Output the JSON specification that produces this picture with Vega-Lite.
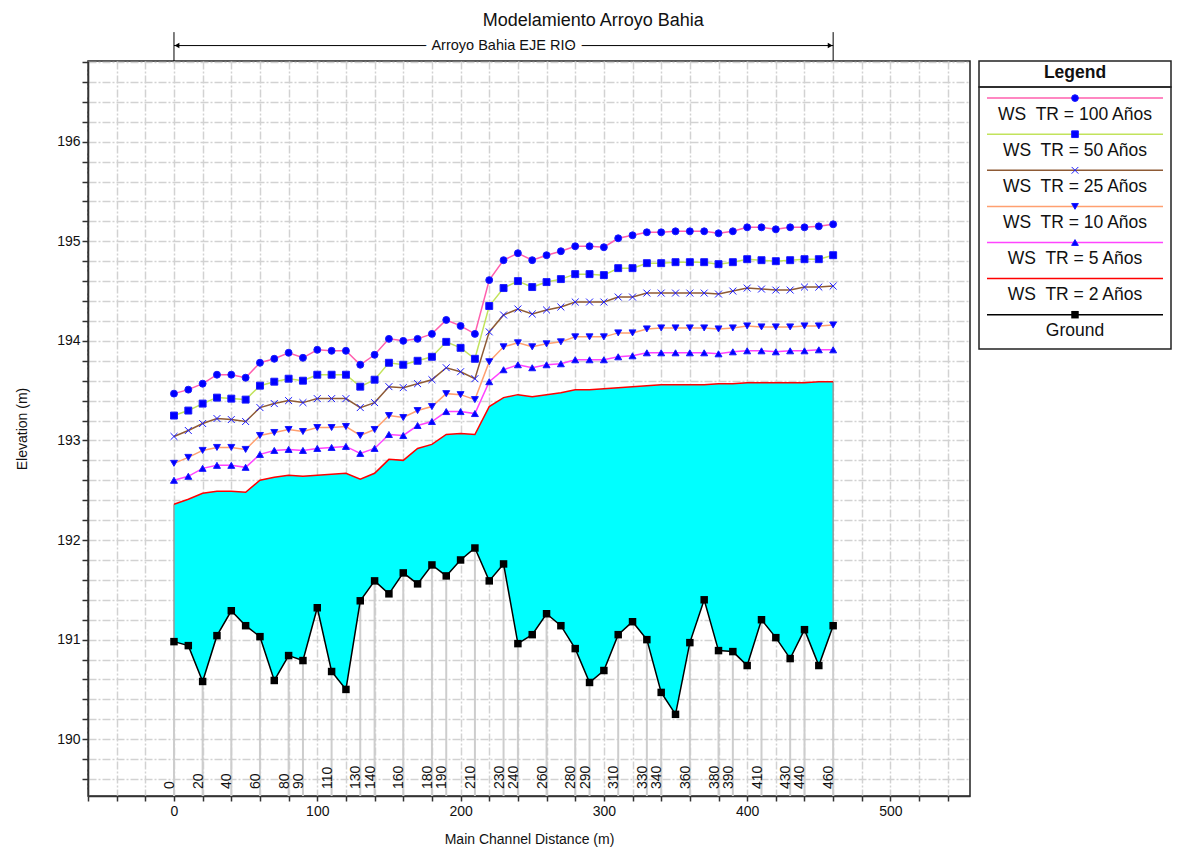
{
  "$schema": "https://vega.github.io/schema/vega-lite/v6.json",
  "background": "white",
  "padding": {"left": 14, "top": 11, "right": 0, "bottom": 0},
  "bounds": "flush",
  "spacing": 9,
  "title": {"text": "Modelamiento Arroyo Bahia", "fontSize": 18, "fontWeight": "normal", "font": "Liberation Sans", "anchor": "middle", "offset": 1, "color": "#111"},
  "config": {
    "font": "Liberation Sans",
    "view": {"stroke": "#222", "strokeWidth": 1.5},
    "axis": {"labelFont": "Liberation Sans", "titleFont": "Liberation Sans", "labelFontSize": 14, "titleFontSize": 14, "titleFontWeight": "normal", "labelColor": "#111", "titleColor": "#111", "domainColor": "#333", "domainWidth": 1.5, "tickColor": "#333", "tickWidth": 1.5, "gridColor": "#d2d2d2", "gridWidth": 1.5, "gridDash": [8, 2, 2, 2], "labelOverlap": false, "labelFlush": false}
  },
  "datasets": {
    "profile": [
      {"station": 0, "ground": 190.98, "ws2": 192.36, "ws5": 192.60, "ws10": 192.77, "ws25": 193.04, "ws50": 193.25, "ws100": 193.47},
      {"station": 10, "ground": 190.94, "ws2": 192.41, "ws5": 192.64, "ws10": 192.83, "ws25": 193.10, "ws50": 193.30, "ws100": 193.51},
      {"station": 20, "ground": 190.58, "ws2": 192.47, "ws5": 192.72, "ws10": 192.90, "ws25": 193.17, "ws50": 193.37, "ws100": 193.57},
      {"station": 30, "ground": 191.04, "ws2": 192.49, "ws5": 192.75, "ws10": 192.93, "ws25": 193.22, "ws50": 193.43, "ws100": 193.66},
      {"station": 40, "ground": 191.29, "ws2": 192.49, "ws5": 192.75, "ws10": 192.93, "ws25": 193.21, "ws50": 193.42, "ws100": 193.66},
      {"station": 50, "ground": 191.14, "ws2": 192.48, "ws5": 192.73, "ws10": 192.91, "ws25": 193.19, "ws50": 193.41, "ws100": 193.63},
      {"station": 60, "ground": 191.03, "ws2": 192.60, "ws5": 192.86, "ws10": 193.05, "ws25": 193.33, "ws50": 193.55, "ws100": 193.78},
      {"station": 70, "ground": 190.59, "ws2": 192.63, "ws5": 192.90, "ws10": 193.08, "ws25": 193.37, "ws50": 193.59, "ws100": 193.82},
      {"station": 80, "ground": 190.84, "ws2": 192.65, "ws5": 192.91, "ws10": 193.11, "ws25": 193.40, "ws50": 193.62, "ws100": 193.88},
      {"station": 90, "ground": 190.79, "ws2": 192.64, "ws5": 192.90, "ws10": 193.09, "ws25": 193.38, "ws50": 193.60, "ws100": 193.83},
      {"station": 100, "ground": 191.32, "ws2": 192.65, "ws5": 192.92, "ws10": 193.13, "ws25": 193.42, "ws50": 193.66, "ws100": 193.91},
      {"station": 110, "ground": 190.68, "ws2": 192.66, "ws5": 192.93, "ws10": 193.13, "ws25": 193.42, "ws50": 193.66, "ws100": 193.90},
      {"station": 120, "ground": 190.50, "ws2": 192.67, "ws5": 192.94, "ws10": 193.14, "ws25": 193.42, "ws50": 193.66, "ws100": 193.90},
      {"station": 130, "ground": 191.39, "ws2": 192.61, "ws5": 192.87, "ws10": 193.05, "ws25": 193.33, "ws50": 193.54, "ws100": 193.76},
      {"station": 140, "ground": 191.59, "ws2": 192.67, "ws5": 192.92, "ws10": 193.11, "ws25": 193.38, "ws50": 193.61, "ws100": 193.86},
      {"station": 150, "ground": 191.46, "ws2": 192.81, "ws5": 193.06, "ws10": 193.25, "ws25": 193.54, "ws50": 193.78, "ws100": 194.02},
      {"station": 160, "ground": 191.67, "ws2": 192.80, "ws5": 193.05, "ws10": 193.23, "ws25": 193.53, "ws50": 193.76, "ws100": 194.00},
      {"station": 170, "ground": 191.56, "ws2": 192.92, "ws5": 193.15, "ws10": 193.30, "ws25": 193.57, "ws50": 193.80, "ws100": 194.02},
      {"station": 180, "ground": 191.75, "ws2": 192.96, "ws5": 193.19, "ws10": 193.34, "ws25": 193.61, "ws50": 193.84, "ws100": 194.07},
      {"station": 190, "ground": 191.64, "ws2": 193.06, "ws5": 193.29, "ws10": 193.47, "ws25": 193.73, "ws50": 193.99, "ws100": 194.21},
      {"station": 200, "ground": 191.80, "ws2": 193.07, "ws5": 193.29, "ws10": 193.46, "ws25": 193.69, "ws50": 193.93, "ws100": 194.15},
      {"station": 210, "ground": 191.92, "ws2": 193.06, "ws5": 193.27, "ws10": 193.41, "ws25": 193.62, "ws50": 193.82, "ws100": 194.07},
      {"station": 220, "ground": 191.59, "ws2": 193.34, "ws5": 193.59, "ws10": 193.79, "ws25": 194.09, "ws50": 194.35, "ws100": 194.61},
      {"station": 230, "ground": 191.76, "ws2": 193.43, "ws5": 193.71, "ws10": 193.94, "ws25": 194.26, "ws50": 194.53, "ws100": 194.81},
      {"station": 240, "ground": 190.96, "ws2": 193.46, "ws5": 193.76, "ws10": 193.98, "ws25": 194.32, "ws50": 194.60, "ws100": 194.88},
      {"station": 250, "ground": 191.05, "ws2": 193.44, "ws5": 193.73, "ws10": 193.94, "ws25": 194.27, "ws50": 194.54, "ws100": 194.81},
      {"station": 260, "ground": 191.26, "ws2": 193.46, "ws5": 193.76, "ws10": 193.97, "ws25": 194.31, "ws50": 194.59, "ws100": 194.86},
      {"station": 270, "ground": 191.14, "ws2": 193.48, "ws5": 193.77, "ws10": 193.99, "ws25": 194.34, "ws50": 194.62, "ws100": 194.90},
      {"station": 280, "ground": 190.91, "ws2": 193.51, "ws5": 193.81, "ws10": 194.04, "ws25": 194.39, "ws50": 194.67, "ws100": 194.95},
      {"station": 290, "ground": 190.57, "ws2": 193.51, "ws5": 193.81, "ws10": 194.04, "ws25": 194.39, "ws50": 194.67, "ws100": 194.95},
      {"station": 300, "ground": 190.69, "ws2": 193.52, "ws5": 193.81, "ws10": 194.04, "ws25": 194.39, "ws50": 194.66, "ws100": 194.94},
      {"station": 310, "ground": 191.05, "ws2": 193.53, "ws5": 193.84, "ws10": 194.08, "ws25": 194.44, "ws50": 194.73, "ws100": 195.03},
      {"station": 320, "ground": 191.18, "ws2": 193.54, "ws5": 193.85, "ws10": 194.08, "ws25": 194.44, "ws50": 194.73, "ws100": 195.06},
      {"station": 330, "ground": 191.00, "ws2": 193.55, "ws5": 193.88, "ws10": 194.12, "ws25": 194.48, "ws50": 194.78, "ws100": 195.09},
      {"station": 340, "ground": 190.47, "ws2": 193.56, "ws5": 193.88, "ws10": 194.13, "ws25": 194.48, "ws50": 194.78, "ws100": 195.09},
      {"station": 350, "ground": 190.25, "ws2": 193.56, "ws5": 193.88, "ws10": 194.13, "ws25": 194.48, "ws50": 194.79, "ws100": 195.10},
      {"station": 360, "ground": 190.97, "ws2": 193.56, "ws5": 193.88, "ws10": 194.13, "ws25": 194.48, "ws50": 194.79, "ws100": 195.10},
      {"station": 370, "ground": 191.40, "ws2": 193.56, "ws5": 193.88, "ws10": 194.13, "ws25": 194.48, "ws50": 194.79, "ws100": 195.10},
      {"station": 380, "ground": 190.89, "ws2": 193.57, "ws5": 193.87, "ws10": 194.12, "ws25": 194.47, "ws50": 194.77, "ws100": 195.08},
      {"station": 390, "ground": 190.88, "ws2": 193.57, "ws5": 193.89, "ws10": 194.13, "ws25": 194.50, "ws50": 194.79, "ws100": 195.10},
      {"station": 400, "ground": 190.74, "ws2": 193.58, "ws5": 193.90, "ws10": 194.15, "ws25": 194.53, "ws50": 194.82, "ws100": 195.14},
      {"station": 410, "ground": 191.20, "ws2": 193.58, "ws5": 193.90, "ws10": 194.14, "ws25": 194.52, "ws50": 194.81, "ws100": 195.14},
      {"station": 420, "ground": 191.02, "ws2": 193.58, "ws5": 193.89, "ws10": 194.14, "ws25": 194.51, "ws50": 194.80, "ws100": 195.12},
      {"station": 430, "ground": 190.81, "ws2": 193.58, "ws5": 193.90, "ws10": 194.14, "ws25": 194.51, "ws50": 194.81, "ws100": 195.14},
      {"station": 440, "ground": 191.10, "ws2": 193.58, "ws5": 193.90, "ws10": 194.15, "ws25": 194.54, "ws50": 194.82, "ws100": 195.14},
      {"station": 450, "ground": 190.74, "ws2": 193.59, "ws5": 193.91, "ws10": 194.15, "ws25": 194.54, "ws50": 194.82, "ws100": 195.15},
      {"station": 460, "ground": 191.14, "ws2": 193.59, "ws5": 193.91, "ws10": 194.16, "ws25": 194.55, "ws50": 194.86, "ws100": 195.17}
    ],
    "reach": [{"reach": "Arroyo Bahia EJE RIO", "start": 0, "end": 460}],
    "legendItems": [
      {"key": "ws100", "label": "WS\u00a0 TR = 100 Años"},
      {"key": "ws50", "label": "WS\u00a0 TR = 50 Años"},
      {"key": "ws25", "label": "WS\u00a0 TR = 25 Años"},
      {"key": "ws10", "label": "WS\u00a0 TR = 10 Años"},
      {"key": "ws5", "label": "WS\u00a0 TR = 5 Años"},
      {"key": "ws2", "label": "WS\u00a0 TR = 2 Años"},
      {"key": "ground", "label": "Ground"}
    ]
  },
  "hconcat": [
    {
      "width": 882,
      "height": 735,
      "layer": [
        {
          "data": {"name": "profile"},
          "transform": [{"filter": {"field": "station", "oneOf": [0, 20, 40, 60, 80, 90, 110, 130, 140, 160, 180, 190, 210, 230, 240, 260, 280, 290, 310, 330, 340, 360, 380, 390, 410, 430, 440, 460]}}],
          "mark": {"type": "rule", "color": "#cdcdcd", "strokeWidth": 2},
          "encoding": {
            "x": {"field": "station", "type": "quantitative", "scale": {"domain": [-60, 555.5], "nice": false, "zero": false},
              "axis": {"title": "Main Channel Distance (m)", "values": [-60, -40, -20, 0, 20, 40, 60, 80, 100, 120, 140, 160, 180, 200, 220, 240, 260, 280, 300, 320, 340, 360, 380, 400, 420, 440, 460, 480, 500, 520, 540], "tickCount": 200, "labelExpr": "datum.value % 100 === 0 ? datum.label : ''", "labelOverlap": false, "grid": true, "tickSize": 5, "labelPadding": 3, "titlePadding": 14}},
            "y": {"field": "ground", "type": "quantitative", "scale": {"domain": [189.43, 196.81], "nice": false, "zero": false},
              "axis": {"title": "Elevation (m)", "values": [189.6, 189.8, 190, 190.2, 190.4, 190.6, 190.8, 191, 191.2, 191.4, 191.6, 191.8, 192, 192.2, 192.4, 192.6, 192.8, 193, 193.2, 193.4, 193.6, 193.8, 194, 194.2, 194.4, 194.6, 194.8, 195, 195.2, 195.4, 195.6, 195.8, 196, 196.2, 196.4, 196.6, 196.8], "tickCount": 200, "labelExpr": "abs(datum.value - round(datum.value)) < 0.01 ? format(datum.value, 'd') : ''", "labelOverlap": false, "grid": true, "tickSize": 6, "labelPadding": 2, "titlePadding": 27}},
            "y2": {"value": "height"}
          }
        },
        {
          "data": {"name": "profile"},
          "mark": {"type": "area", "color": "#00ffff", "opacity": 1},
          "encoding": {
            "x": {"field": "station", "type": "quantitative"},
            "y": {"field": "ground", "type": "quantitative"},
            "y2": {"field": "ws2"}
          }
        },
        {
          "data": {"name": "profile"},
          "transform": [{"filter": {"field": "station", "oneOf": [0, 460]}}],
          "mark": {"type": "rule", "color": "#9a9a9a", "strokeWidth": 1.5},
          "encoding": {
            "x": {"field": "station", "type": "quantitative"},
            "y": {"field": "ground", "type": "quantitative"},
            "y2": {"field": "ws2"}
          }
        },
        {
          "data": {"name": "profile"},
          "transform": [{"fold": ["ground", "ws2", "ws5", "ws10", "ws25", "ws50", "ws100"], "as": ["series", "elev"]}],
          "mark": {"type": "line", "strokeWidth": 1.5},
          "encoding": {
            "x": {"field": "station", "type": "quantitative"},
            "y": {"field": "elev", "type": "quantitative"},
            "stroke": {"field": "series", "type": "nominal", "legend": null,
              "scale": {"domain": ["ws100", "ws50", "ws25", "ws10", "ws5", "ws2", "ground"], "range": ["#ff5fae", "#c2e35c", "#8e5a35", "#ffa070", "#ff44ff", "#ff0000", "#000000"]}}
          }
        },
        {
          "data": {"name": "profile"},
          "transform": [{"fold": ["ws5", "ws10", "ws25", "ws50", "ws100"], "as": ["series", "elev"]}],
          "mark": {"type": "point", "filled": true, "fill": "#0000ff", "stroke": "#1a1aff", "strokeWidth": 1, "opacity": 1, "size": 48},
          "encoding": {
            "x": {"field": "station", "type": "quantitative"},
            "y": {"field": "elev", "type": "quantitative"},
            "shape": {"field": "series", "type": "nominal", "legend": null,
              "scale": {"domain": ["ws100", "ws50", "ws25", "ws10", "ws5"], "range": ["circle", "square", "M-1,-1L1,1M-1,1L1,-1", "triangle-down", "triangle-up"]}}
          }
        },
        {
          "data": {"name": "profile"},
          "mark": {"type": "point", "shape": "square", "filled": true, "color": "#000000", "size": 56, "opacity": 1},
          "encoding": {
            "x": {"field": "station", "type": "quantitative"},
            "y": {"field": "ground", "type": "quantitative"}
          }
        },
        {
          "data": {"name": "profile"},
          "transform": [{"filter": {"field": "station", "oneOf": [0, 20, 40, 60, 80, 90, 110, 130, 140, 160, 180, 190, 210, 230, 240, 260, 280, 290, 310, 330, 340, 360, 380, 390, 410, 430, 440, 460]}}],
          "mark": {"type": "text", "angle": 270, "align": "left", "baseline": "alphabetic", "fontSize": 14, "color": "#111"},
          "encoding": {
            "x": {"field": "station", "type": "quantitative"},
            "y": {"datum": 189.5, "type": "quantitative"},
            "text": {"field": "station", "type": "quantitative"}
          }
        },
        {
          "data": {"name": "reach"},
          "mark": {"type": "rule", "color": "#000", "strokeWidth": 1},
          "encoding": {"x": {"field": "start", "type": "quantitative"}, "y": {"datum": 197.1, "type": "quantitative"}, "y2": {"value": 0}}
        },
        {
          "data": {"name": "reach"},
          "mark": {"type": "rule", "color": "#000", "strokeWidth": 1},
          "encoding": {"x": {"field": "end", "type": "quantitative"}, "y": {"datum": 197.1, "type": "quantitative"}, "y2": {"value": 0}}
        },
        {
          "data": {"name": "reach"},
          "mark": {"type": "rule", "color": "#000", "strokeWidth": 1},
          "encoding": {"x": {"field": "start", "type": "quantitative"}, "x2": {"field": "end"}, "y": {"datum": 196.965, "type": "quantitative"}}
        },
        {
          "data": {"name": "reach"},
          "mark": {"type": "point", "shape": "triangle-left", "filled": true, "color": "#000", "size": 30, "opacity": 1, "xOffset": 3},
          "encoding": {"x": {"field": "start", "type": "quantitative"}, "y": {"datum": 196.965, "type": "quantitative"}}
        },
        {
          "data": {"name": "reach"},
          "mark": {"type": "point", "shape": "triangle-right", "filled": true, "color": "#000", "size": 30, "opacity": 1, "xOffset": -3},
          "encoding": {"x": {"field": "end", "type": "quantitative"}, "y": {"datum": 196.965, "type": "quantitative"}}
        },
        {
          "data": {"name": "reach"},
          "mark": {"type": "text", "fontSize": 14.5, "color": "white", "stroke": "white", "strokeWidth": 13, "strokeJoin": "round", "baseline": "middle", "align": "center"},
          "encoding": {"x": {"datum": 230, "type": "quantitative"}, "y": {"datum": 196.965, "type": "quantitative"}, "text": {"field": "reach", "type": "nominal"}}
        },
        {
          "data": {"name": "reach"},
          "mark": {"type": "text", "fontSize": 14.5, "color": "#111", "baseline": "middle", "align": "center"},
          "encoding": {"x": {"datum": 230, "type": "quantitative"}, "y": {"datum": 196.965, "type": "quantitative"}, "text": {"field": "reach", "type": "nominal"}}
        }
      ]
    },
    {
      "vconcat": [
        {
          "width": 192,
          "height": 26,
          "data": {"values": [{"h": "Legend"}]},
          "mark": {"type": "text", "fontSize": 17.5, "fontWeight": "bold", "color": "#111", "align": "center", "baseline": "middle"},
          "encoding": {
            "x": {"value": 96},
            "y": {"value": 12},
            "text": {"field": "h", "type": "nominal"}
          }
        },
        {
          "width": 192,
          "height": 262,
          "data": {"name": "legendItems"},
          "layer": [
            {
              "mark": {"type": "rule", "strokeWidth": 1.5, "yOffset": -7.6},
              "encoding": {
                "y": {"field": "key", "type": "nominal", "axis": null, "scale": {"type": "point", "domain": ["ws100", "ws50", "ws25", "ws10", "ws5", "ws2", "ground"], "range": [18.7, 235.3], "padding": 0}},
                "x": {"value": 8},
                "x2": {"value": 184},
                "stroke": {"field": "key", "type": "nominal", "legend": null,
                  "scale": {"domain": ["ws100", "ws50", "ws25", "ws10", "ws5", "ws2", "ground"], "range": ["#ff5fae", "#c2e35c", "#8e5a35", "#ffa070", "#ff44ff", "#ff0000", "#000000"]}}
              }
            },
            {
              "transform": [{"filter": {"field": "key", "oneOf": ["ws100", "ws50", "ws25", "ws10", "ws5"]}}],
              "mark": {"type": "point", "filled": true, "fill": "#0000ff", "stroke": "#1a1aff", "strokeWidth": 1, "opacity": 1, "yOffset": -7.6, "size": 45},
              "encoding": {
                "y": {"field": "key", "type": "nominal"},
                "x": {"value": 96},
                "shape": {"field": "key", "type": "nominal", "legend": null,
                  "scale": {"domain": ["ws100", "ws50", "ws25", "ws10", "ws5"], "range": ["circle", "square", "M-1,-1L1,1M-1,1L1,-1", "triangle-down", "triangle-up"]}}
              }
            },
            {
              "transform": [{"filter": {"field": "key", "oneOf": ["ground"]}}],
              "mark": {"type": "point", "shape": "square", "filled": true, "color": "#000000", "opacity": 1, "yOffset": -7.6, "size": 56},
              "encoding": {
                "y": {"field": "key", "type": "nominal"},
                "x": {"value": 96}
              }
            },
            {
              "mark": {"type": "text", "fontSize": 17.5, "color": "#111", "align": "center", "baseline": "middle", "dy": 9},
              "encoding": {
                "y": {"field": "key", "type": "nominal"},
                "x": {"value": 96},
                "text": {"field": "label", "type": "nominal"}
              }
            }
          ]
        }
      ],
      "spacing": 0,
      "bounds": "flush"
    }
  ]
}
